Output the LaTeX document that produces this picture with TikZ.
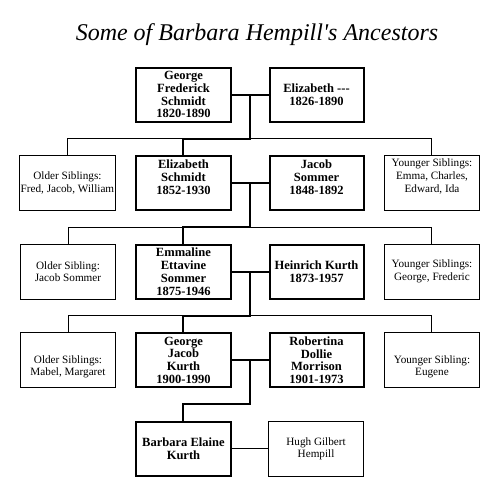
\documentclass[tikz,border=0pt]{standalone}
\usepackage{fontspec}
\setmainfont{Liberation Serif}
\newfontfamily\titlefont{Liberation Serif}[Ligatures=TeXOff]
\usetikzlibrary{positioning,calc}
% extra room under the last line / over the first line of a box text
\newcommand{\padbelow}[1]{\rule[-#1]{0pt}{#1}}
\newcommand{\padabove}[1]{\rule{0pt}{#1}}

\begin{document}
\begin{tikzpicture}[
      person/.style={draw, line width=1.5pt, align=center, inner sep=1pt,
                     font=\bfseries\fontsize{9.4}{9.6}\selectfont,
                     minimum width=70.5pt, minimum height=40.5pt},
      sib/.style={draw, line width=0.75pt, align=center, inner sep=1pt,
                  font=\fontsize{8.4}{9.5}\selectfont,
                  minimum width=71.25pt, minimum height=41.25pt},
      bond/.style={line width=1.5pt},
      kin/.style={line width=0.75pt}
    ]
    \useasboundingbox (-137.6pt,70.9pt) rectangle (233.6pt,-295.9pt);

    % Generation 1
    \node[person] (gfs) at (0,0) {George\\Frederick\\Schmidt\\1820-1890};
    \node[person, right=27.75pt of gfs] (eliz) {Elizabeth -{}-{}-\\1826-1890};
    \coordinate (m1) at ($(gfs.east)!.5!(eliz.west)$);
    \node[font=\titlefont\itshape\fontsize{18}{20}\selectfont, anchor=base] (title)
      at ($(m1)+(5.25pt,40.9pt)$) {Some of Barbara Hempill's Ancestors};

    % Generation 2
    \node[person, below=24.4pt of gfs] (es) {Elizabeth\\Schmidt\\1852-1930\padbelow{8.5pt}};
    \node[person, right=27.75pt of es] (js) {Jacob\\Sommer\\1848-1892\padbelow{8.5pt}};
    \node[sib, left=14.6pt of es] (os2) {Older Siblings:\\Fred, Jacob, William};
    \node[sib, right=14.6pt of js] (ys2)
      {Younger Siblings:\\Emma, Charles,\\Edward, Ida\padbelow{11pt}};
    \coordinate (m2) at ($(es.east)!.5!(js.west)$);

    % Generation 3
    \node[person, below=24.4pt of es] (ees) {Emmaline\\Ettavine\\Sommer\\1875-1946};
    \node[person, right=27.75pt of ees] (hk) {Heinrich Kurth\\1873-1957};
    \node[sib, left=14.6pt of ees] (os3) {Older Sibling:\\Jacob Sommer};
    \node[sib, right=14.6pt of hk] (ys3) {Younger Siblings:\\George, Frederic};
    \coordinate (m3) at ($(ees.east)!.5!(hk.west)$);

    % Generation 4
    \node[person, below=24.4pt of ees] (gjk) {George\\Jacob\\Kurth\\1900-1990};
    \node[person, right=27.75pt of gjk] (rdm) {Robertina\\Dollie\\Morrison\\1901-1973};
    \node[sib, left=14.6pt of gjk] (os4) {\padabove{16pt}Older Siblings:\\Mabel, Margaret};
    \node[sib, right=14.6pt of rdm] (ys4) {\padabove{16pt}Younger Sibling:\\Eugene};
    \coordinate (m4) at ($(gjk.east)!.5!(rdm.west)$);

    % Generation 5
    \node[person, below=24.4pt of gjk] (bek) {Barbara Elaine\\Kurth};
    \node[sib, right=27.4pt of bek] (hgh) {Hugh Gilbert\\Hempill};

    % junctions between generations
    \coordinate (r1) at ($(gfs.south)!.5!(es.north)$);
    \coordinate (r2) at ($(es.south)!.5!(ees.north)$);
    \coordinate (r3) at ($(ees.south)!.5!(gjk.north)$);
    \coordinate (r4) at ($(gjk.south)!.5!(bek.north)$);
    \coordinate (j1) at (m1 |- r1);
    \coordinate (j2) at (m2 |- r2);
    \coordinate (j3) at (m3 |- r3);
    \coordinate (j4) at (m4 |- r4);

    \draw[kin] (os2.north) |- (j1) -| (ys2.north);
    \draw[kin] (os3.north) |- (j2) -| (ys3.north);
    \draw[kin] (os4.north) |- (j3) -| (ys4.north);
    \draw[kin] (bek) -- (hgh);

    \draw[bond] (gfs) -- (eliz);
    \draw[bond] (es) -- (js);
    \draw[bond] (ees) -- (hk);
    \draw[bond] (gjk) -- (rdm);
    \draw[bond] (m1) -- (j1) -| (es.north);
    \draw[bond] (m2) -- (j2) -| (ees.north);
    \draw[bond] (m3) -- (j3) -| (gjk.north);
    \draw[bond] (m4) -- (j4) -| (bek.north);
\end{tikzpicture}
\end{document}
